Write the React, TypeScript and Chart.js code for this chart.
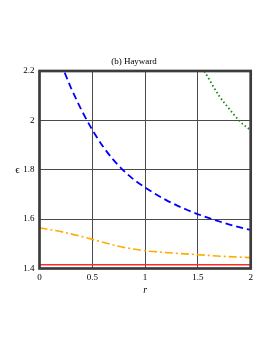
import React, { useEffect, useRef } from "react";
import { Chart, registerables } from "chart.js";
Chart.register(...registerables);

const titleText = "(b) Hayward";
const xLabel = "r";
const yLabel = "ϵ";
const xTicks = [0, 0.5, 1, 1.5, 2];
const yTicks = [1.4, 1.6, 1.8, 2, 2.2];

const blueR = [0.2, 0.232, 0.3, 0.4, 0.5, 0.6, 0.7, 0.8, 0.9, 1.0, 1.2, 1.4, 1.6, 1.8, 2.0];
const blueEps = [2.235, 2.2, 2.13, 2.04, 1.962, 1.895, 1.84, 1.795, 1.758, 1.728, 1.677, 1.637, 1.605, 1.578, 1.556];

const greenR = [1.5, 1.56, 1.7, 1.8, 1.9, 2.0];
const greenEps = [2.24, 2.2, 2.1, 2.045, 1.995, 1.96];

const orangeR = [0, 0.25, 0.5, 0.75, 1, 1.25, 1.5, 1.75, 2];
const orangeEps = [1.565, 1.545, 1.518, 1.49, 1.472, 1.463, 1.456, 1.449, 1.444];

const redR = [0, 2];
const redEps = [1.415, 1.415];

const pts = (xs: number[], ys: number[]) => xs.map((x, i) => ({ x, y: ys[i] }));

const FONT = "'Liberation Serif', 'Times New Roman', serif";

const decorPlugin = {
  id: "decor",
  beforeDraw(chart: any) {
    const ctx = chart.ctx;
    ctx.save();
    ctx.fillStyle = "#ffffff";
    ctx.fillRect(0, 0, chart.width, chart.height);
    ctx.restore();
  },
  afterDraw(chart: any) {
    const ctx = chart.ctx;
    const a = chart.chartArea;
    ctx.save();
    ctx.strokeStyle = "#3c3c3c";
    ctx.lineWidth = 2.7;
    ctx.strokeRect(a.left, a.top, a.right - a.left, a.bottom - a.top);
    ctx.fillStyle = "#000";
    ctx.textAlign = "center";
    ctx.textBaseline = "middle";
    ctx.font = `9px ${FONT}`;
    ctx.fillText(titleText, 134, a.top - 9);
    ctx.font = `11px ${FONT}`;
    ctx.fillText(yLabel, a.left - 22, (a.top + a.bottom) / 2);
    ctx.font = `italic 10px ${FONT}`;
    ctx.fillText(xLabel, (a.left + a.right) / 2, a.bottom + 22);
    ctx.restore();
  },
};

export default function App() {
  const ref = useRef<HTMLCanvasElement | null>(null);
  useEffect(() => {
    if (!ref.current) return;
    const chart = new Chart(ref.current, {
      type: "line",
      data: {
        datasets: [
          {
            data: pts(redR, redEps),
            borderColor: "#ff2a2a",
            borderWidth: 1.6,
            pointRadius: 0,
          },
          {
            data: pts(orangeR, orangeEps),
            borderColor: "#ffab00",
            borderWidth: 1.6,
            borderDash: [8, 3, 2, 3],
            pointRadius: 0,
            cubicInterpolationMode: "monotone",
          },
          {
            data: pts(blueR, blueEps),
            borderColor: "#0000ff",
            borderWidth: 1.8,
            borderDash: [7, 4],
            pointRadius: 0,
            cubicInterpolationMode: "monotone",
          },
          {
            data: pts(greenR, greenEps),
            borderColor: "#118811",
            borderWidth: 1.8,
            borderDash: [1.5, 2.5],
            pointRadius: 0,
            cubicInterpolationMode: "monotone",
          },
        ],
      },
      options: {
        animation: false,
        responsive: false,
        devicePixelRatio: 1,
        layout: { padding: { top: 71, left: 0, right: 22.3, bottom: 0 } },
        plugins: { legend: { display: false }, tooltip: { enabled: false }, title: { display: false } },
        scales: {
          x: {
            type: "linear",
            min: 0,
            max: 2,
            afterFit: (s: any) => { s.height = 84.5; },
            afterBuildTicks: (s: any) => { s.ticks = xTicks.map((v) => ({ value: v })); },
            ticks: {
              padding: 4,
              color: "#000",
              font: { family: FONT, size: 9 },
              callback: (v: any) => String(v),
              maxRotation: 0,
            },
            grid: { color: "#4a4a4a", lineWidth: 1, drawTicks: false },
            border: { display: false },
          },
          y: {
            type: "linear",
            min: 1.4,
            max: 2.2,
            afterFit: (s: any) => { s.width = 39.5; },
            afterBuildTicks: (s: any) => { s.ticks = yTicks.map((v) => ({ value: v })); },
            ticks: {
              padding: 5,
              color: "#000",
              font: { family: FONT, size: 9 },
              callback: (v: any) => String(Math.round(v * 10) / 10),
            },
            grid: { color: "#4a4a4a", lineWidth: 1, drawTicks: false },
            border: { display: false },
          },
        },
      },
      plugins: [decorPlugin],
    });
    return () => chart.destroy();
  }, []);
  return (
    <div style={{ position: "absolute", left: 0, top: 0, width: 273, height: 353 }}>
      <canvas ref={ref} width={273} height={353} style={{ display: "block", width: 273, height: 353 }} />
    </div>
  );
}
